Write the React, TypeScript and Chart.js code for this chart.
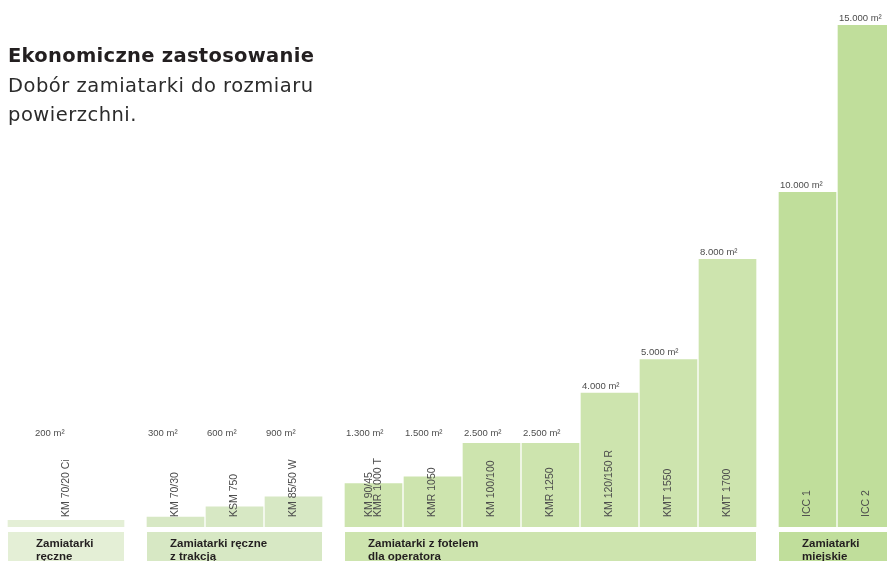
import React, { useEffect, useRef } from "react";
import { Chart, registerables } from "chart.js";

Chart.register(...registerables);

// ---------- data ----------
const productNames: (string | string[])[] = [
  "KM 70/20 Ci",
  "KM 70/30",
  "KSM 750",
  "KM 85/50 W",
  ["KM 90/45", "KMR 1000 T"],
  "KMR 1050",
  "KM 100/100",
  "KMR 1250",
  "KM 120/150 R",
  "KMT 1550",
  "KMT 1700",
  "ICC 1",
  "ICC 2",
];
const areaValues = [200, 300, 600, 900, 1300, 1500, 2500, 2500, 4000, 5000, 8000, 10000, 15000];
const productGroup = [0, 1, 1, 1, 2, 2, 2, 2, 2, 2, 2, 3, 3];
const groupNames: string[][] = [
  ["Zamiatarki", "ręczne"],
  ["Zamiatarki ręczne", "z trakcją"],
  ["Zamiatarki z fotelem", "dla operatora"],
  ["Zamiatarki", "miejskie"],
];
const titleText = "Ekonomiczne zastosowanie";
const subtitleLines = ["Dobór zamiatarki do rozmiaru", "powierzchni."];
const unitSuffix = " m²";
const yMax = 15000;

// ---------- layout / style ----------
const W = 887;
const H = 561;
const PITCH = 59;
const BAR_GAP = 2;
const GROUP_GAP = 21;
const LEFT = 8;
const WIDE_PRODUCTS = new Set([0]);
const groupColors = ["#e4efd6", "#d7e8c4", "#cde4ae", "#c0de9b"];
const GROUP_TEXT_INDENT = [28, 23, 23, 23];
const FONT = '"Liberation Sans", Arial, Helvetica, sans-serif';
const TITLE_FONT = '"DejaVu Sans", "Liberation Sans", sans-serif';
const LABEL_COLOR = "#4d4d4d";

const formatValue = (v: number) =>
  String(v).replace(/\B(?=(\d{3})+(?!\d))/g, ".") + unitSuffix;

// compute bar centers in column units, grouped
function buildLayout() {
  let col = 0;
  const centers: number[] = [];
  const spans: number[] = [];
  productNames.forEach((_, i) => {
    const g = productGroup[i];
    const span = WIDE_PRODUCTS.has(i) ? 2 : 1;
    const leftPx = col * PITCH + g * GROUP_GAP;
    const widthPx = span * PITCH - BAR_GAP;
    centers.push((leftPx + widthPx / 2) / PITCH);
    spans.push(span);
    col += span;
  });
  return { centers, spans };
}

export default function App() {
  const ref = useRef<HTMLCanvasElement | null>(null);

  useEffect(() => {
    if (!ref.current) return;
    const { centers, spans } = buildLayout();

    const groupMembers: number[][] = groupNames.map(() => []);
    productGroup.forEach((g, i) => groupMembers[g].push(i));

    const datasets = groupNames.map((_, g) => ({
      label: groupNames[g].join(" "),
      data: groupMembers[g].map((i) => ({ x: centers[i], y: areaValues[i] })),
      backgroundColor: groupColors[g],
      borderWidth: 0,
      barThickness: groupMembers[g].some((i) => spans[i] > 1)
        ? 2 * PITCH - BAR_GAP
        : PITCH - BAR_GAP,
    }));

    const annotate = {
      id: "annotate",
      afterDatasetsDraw(chart: any) {
        const ctx: CanvasRenderingContext2D = chart.ctx;
        const area = chart.chartArea;
        ctx.save();
        groupNames.forEach((lines, g) => {
          const meta = chart.getDatasetMeta(g);
          let l = Infinity;
          let r = -Infinity;
          meta.data.forEach((el: any, k: number) => {
            const i = groupMembers[g][k];
            const p = el.getProps(["x", "y", "base", "width"], true);
            const left = p.x - p.width / 2;
            l = Math.min(l, left);
            r = Math.max(r, p.x + p.width / 2);

            // value label
            ctx.font = `9.5px ${FONT}`;
            ctx.fillStyle = LABEL_COLOR;
            ctx.textAlign = "left";
            ctx.textBaseline = "middle";
            const ly = Math.min(p.y - 7, area.bottom - 94);
            ctx.fillText(formatValue(areaValues[i]), left + (spans[i] > 1 ? 27 : 1), ly);

            // rotated product name
            const name = productNames[i];
            const nameLines = Array.isArray(name) ? name : [name];
            ctx.save();
            ctx.translate(p.x, area.bottom - 10);
            ctx.rotate(-Math.PI / 2);
            ctx.font = `10.5px ${FONT}`;
            ctx.fillStyle = LABEL_COLOR;
            ctx.textAlign = "left";
            ctx.textBaseline = "middle";
            nameLines.forEach((t, n) => {
              ctx.fillText(t, 0, (n - (nameLines.length - 1) / 2) * 9.5);
            });
            ctx.restore();
          });

          // group band
          ctx.fillStyle = groupColors[g];
          ctx.fillRect(l, area.bottom + 5, r - l, H - area.bottom);
          ctx.fillStyle = "#231f20";
          ctx.font = `bold 11.5px ${FONT}`;
          ctx.textAlign = "left";
          ctx.textBaseline = "middle";
          lines.forEach((t, k) => {
            ctx.fillText(t, l + GROUP_TEXT_INDENT[g], area.bottom + 17 + k * 12.5);
          });
        });
        ctx.restore();
      },
    };

    const chart = new Chart(ref.current, {
      type: "bar",
      data: { datasets: datasets as any },
      options: {
        animation: false,
        responsive: false,
        devicePixelRatio: 1,
        layout: { padding: { top: 25, bottom: 34, left: 0, right: 0 } },
        scales: {
          x: {
            type: "linear",
            display: false,
            stacked: true,
            offset: false,
            min: -LEFT / PITCH,
            max: (W - LEFT) / PITCH,
          },
          y: { display: false, stacked: false, min: 0, max: yMax },
        },
        plugins: {
          legend: { display: false },
          tooltip: { enabled: false },
        },
      },
      plugins: [annotate],
    });
    return () => chart.destroy();
  }, []);

  return (
    <div
      style={{
        position: "absolute",
        left: 0,
        top: 0,
        width: W,
        height: H,
        overflow: "hidden",
        background: "#fff",
      }}
    >
      <canvas ref={ref} width={W} height={H} style={{ display: "block" }} />
      <div
        style={{
          position: "absolute",
          left: 8,
          top: 41,
          fontFamily: TITLE_FONT,
          fontSize: 19.5,
          lineHeight: "29.5px",
          color: "#231f20",
          whiteSpace: "nowrap",
        }}
      >
        <div style={{ fontWeight: "bold", letterSpacing: "0.3px" }}>{titleText}</div>
        {subtitleLines.map((t) => (
          <div key={t} style={{ letterSpacing: "0.5px", color: "#2b2b2b" }}>
            {t}
          </div>
        ))}
      </div>
    </div>
  );
}
